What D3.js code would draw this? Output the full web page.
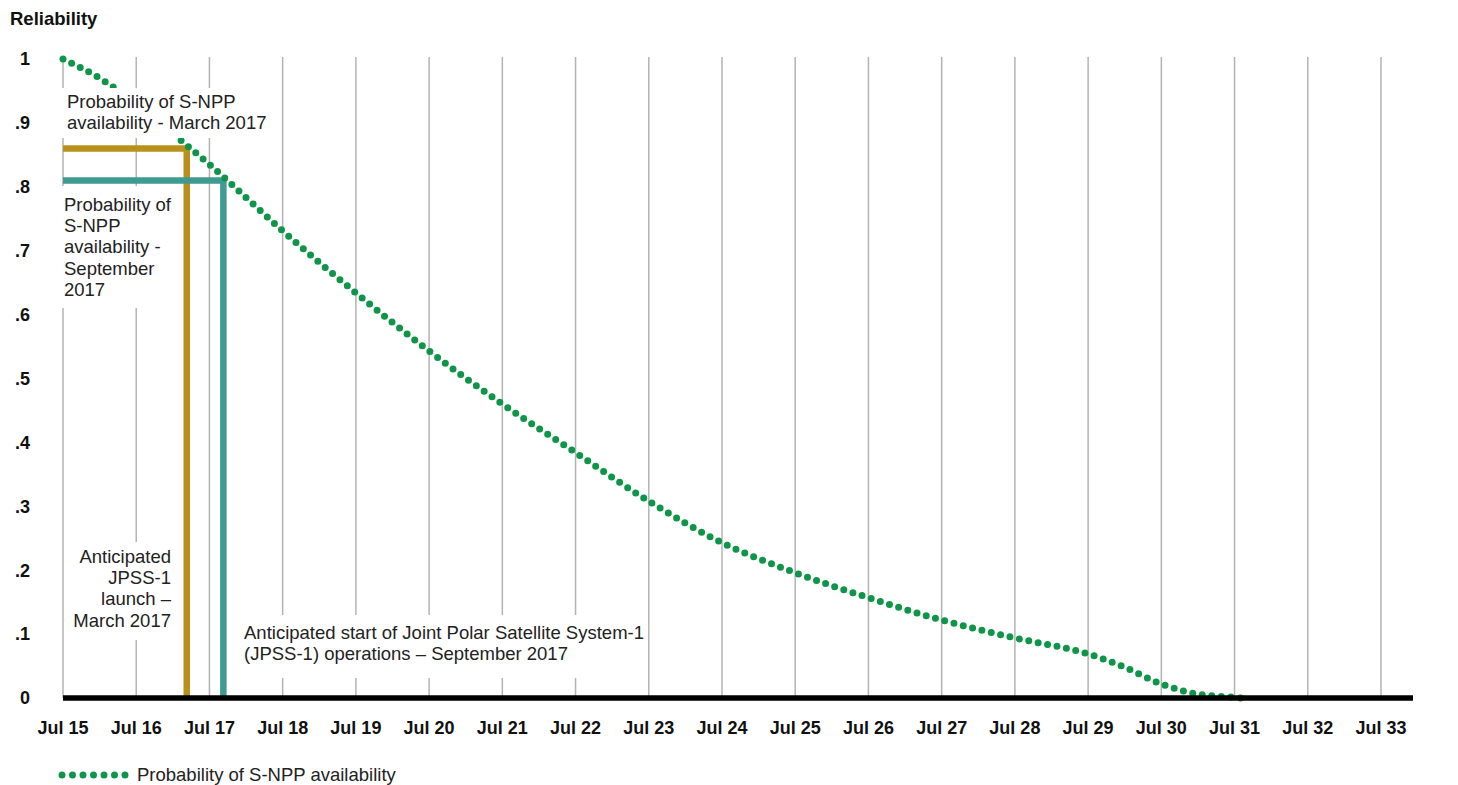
<!DOCTYPE html>
<html lang="en">
<head>
<meta charset="utf-8">
<title>S-NPP reliability</title>
<script src="https://d3js.org/d3.v7.min.js"></script>
<style>
  body { margin: 0; background: #fff; }
  svg { font-family: "Liberation Sans", Arial, sans-serif; }
  .tick-lbl { font-weight: bold; font-size: 18px; fill: #111; }
  .note { font-size: 18.5px; fill: #222; }
</style>
</head>
<body>
<div id="chart"></div>
<script>
// data (x = years, 15 means Jul 2015)
var years = [15, 15.5, 16, 16.67, 17, 18, 19, 20, 21, 22, 23, 24, 25, 26, 27, 28, 29, 29.5, 30, 30.5, 31, 31.1];
var reliability = [1.0, 0.97, 0.93, 0.867, 0.835, 0.731, 0.634, 0.543, 0.46, 0.384, 0.308, 0.243, 0.196, 0.157, 0.122, 0.094, 0.069, 0.048, 0.022, 0.006, 0.001, 0];

var xTicks = d3.range(15, 34);
var xTickLabels = xTicks.map(function (d) { return "Jul " + d; });
var yTicks = [0, 0.1, 0.2, 0.3, 0.4, 0.5, 0.6, 0.7, 0.8, 0.9, 1];
var yTickLabels = ["0", ".1", ".2", ".3", ".4", ".5", ".6", ".7", ".8", ".9", "1"];

// launch / operations markers
var markerNames = ["launch", "operations"];
var markerDates = [16.69, 17.19];
var markerValues = [0.86, 0.81];
var markerColors = ["#b8911c", "#3f9b8f"];

var width = 1458, height = 785;
var svg = d3.select("#chart").append("svg")
    .attr("width", width)
    .attr("height", height);

var x = d3.scaleLinear().domain([15, 33]).range([63, 1381]);
var y = d3.scaleLinear().domain([0, 1]).range([698, 59]);

// vertical grid
svg.append("g").selectAll("line")
    .data(xTicks)
    .enter().append("line")
    .attr("x1", function (d) { return x(d); })
    .attr("x2", function (d) { return x(d); })
    .attr("y1", y(1) - 2)
    .attr("y2", y(0))
    .attr("stroke", "#b3b3b3")
    .attr("stroke-width", 1.5);

// markers: horizontal to the date, then down to zero
svg.append("g").selectAll("path")
    .data(markerNames)
    .enter().append("path")
    .attr("d", function (d, i) {
        return "M" + x(15) + "," + y(markerValues[i]) + "H" + x(markerDates[i]) + "V" + y(0);
    })
    .attr("fill", "none")
    .attr("stroke", function (d, i) { return markerColors[i]; })
    .attr("stroke-width", 6.5);

// dotted reliability curve
var line = d3.line()
    .x(function (d) { return x(d[0]); })
    .y(function (d) { return y(d[1]); })
    .curve(d3.curveMonotoneX);

svg.append("path")
    .datum(d3.zip(years, reliability))
    .attr("d", line)
    .attr("fill", "none")
    .attr("stroke", "#0f9548")
    .attr("stroke-width", 7)
    .attr("stroke-linecap", "round")
    .attr("stroke-dasharray", "0 9.6");

// annotations sit on white boxes that break the grid
var notes = [
    { box: [62, 88, 208, 50], anchor: "start", tx: 67, ty: 108, lines: ["Probability of S-NPP", "availability - March 2017"] },
    { box: [56, 186, 120, 122], anchor: "start", tx: 64, ty: 211, lines: ["Probability of", "S-NPP", "availability -", "September", "2017"] },
    { box: [70, 542, 106, 98], anchor: "end", tx: 171, ty: 563, lines: ["Anticipated", "JPSS-1", "launch \u2013", "March 2017"] },
    { box: [236, 615, 409, 63], anchor: "start", tx: 244, ty: 639, lines: ["Anticipated start of Joint Polar Satellite System-1", "(JPSS-1) operations \u2013 September 2017"] }
];

notes.forEach(function (n) {
    svg.append("rect")
        .attr("x", n.box[0]).attr("y", n.box[1])
        .attr("width", n.box[2]).attr("height", n.box[3])
        .attr("fill", "#fff");
    var t = svg.append("text")
        .attr("class", "note")
        .attr("text-anchor", n.anchor);
    n.lines.forEach(function (s, i) {
        t.append("tspan").attr("x", n.tx).attr("y", n.ty + i * 21.2).text(s);
    });
});

// zero baseline
svg.append("line")
    .attr("x1", x(15)).attr("x2", 1413)
    .attr("y1", y(0)).attr("y2", y(0))
    .attr("stroke", "#000")
    .attr("stroke-width", 5.5);

// y labels
svg.append("g").selectAll("text")
    .data(yTicks)
    .enter().append("text")
    .attr("class", "tick-lbl")
    .attr("x", 30)
    .attr("y", function (d) { return y(d); })
    .attr("dy", "0.35em")
    .attr("text-anchor", "end")
    .text(function (d, i) { return yTickLabels[i]; });

svg.append("text")
    .attr("class", "tick-lbl")
    .attr("x", 10).attr("y", 25)
    .style("font-size", "18.5px")
    .text("Reliability");

// x labels
svg.append("g").selectAll("text")
    .data(xTicks)
    .enter().append("text")
    .attr("class", "tick-lbl")
    .attr("x", function (d) { return x(d); })
    .attr("y", 734)
    .attr("text-anchor", "middle")
    .text(function (d, i) { return xTickLabels[i]; });

// legend
svg.append("line")
    .attr("x1", 62).attr("x2", 126)
    .attr("y1", 775).attr("y2", 775)
    .attr("stroke", "#0f9548")
    .attr("stroke-width", 7)
    .attr("stroke-linecap", "round")
    .attr("stroke-dasharray", "0 10.5");

svg.append("text")
    .attr("class", "note")
    .attr("x", 137).attr("y", 781)
    .text("Probability of S-NPP availability");
</script>
</body>
</html>
